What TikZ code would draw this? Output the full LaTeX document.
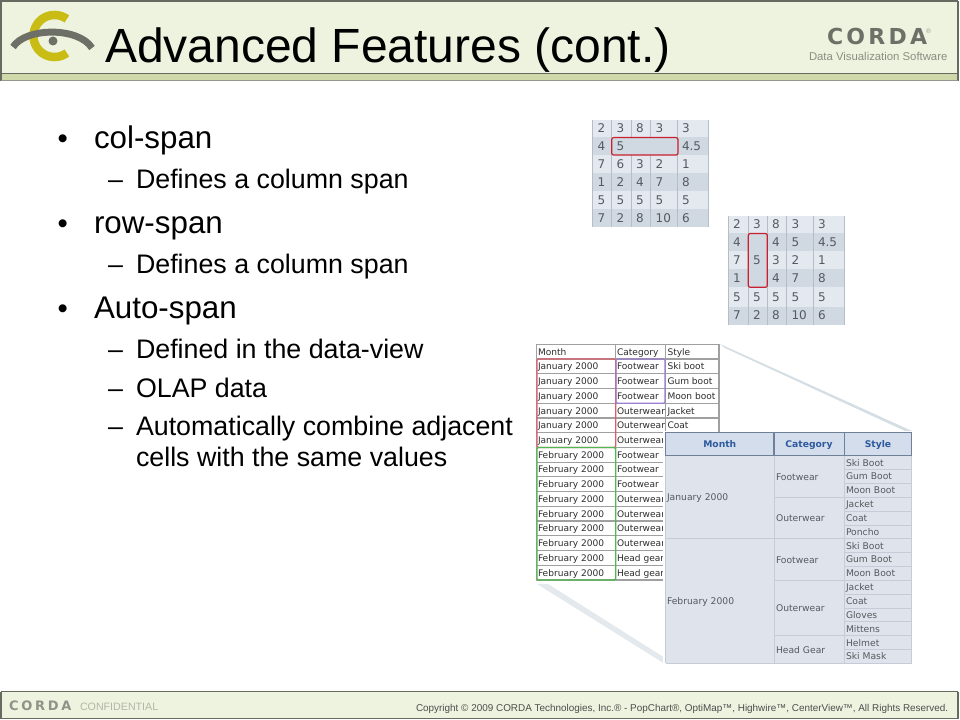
\documentclass[tikz,border=0pt]{standalone}
\usepackage{fontspec}
\setmainfont{Liberation Sans}
\newfontfamily\cordafont[LetterSpace=15]{DejaVu Sans}
\newfontfamily\cordafontb[LetterSpace=21]{DejaVu Sans}
\newfontfamily\tabfont{DejaVu Sans}
\definecolor{hbg}{HTML}{EEF3DF}
\definecolor{hband}{HTML}{CDD9A8}
\definecolor{hline}{HTML}{666A60}
\definecolor{logoy}{HTML}{C9BC14}
\definecolor{logog}{HTML}{6E7068}
\definecolor{dvsc}{HTML}{8A8E80}
\definecolor{rowa}{HTML}{E4E9F0}
\definecolor{rowb}{HTML}{D0D8E2}
\definecolor{gridc}{HTML}{B5BDC9}
\definecolor{tabtxt}{HTML}{555A60}
\definecolor{spanred}{HTML}{C8202E}
\definecolor{rawline}{HTML}{A0A0A0}
\definecolor{rawtxt}{HTML}{2E2E2E}
\definecolor{pbg}{HTML}{DFE3EC}
\definecolor{pline}{HTML}{C5CCD8}
\definecolor{phead}{HTML}{D3DDEB}
\definecolor{pborder}{HTML}{6F8099}
\definecolor{pblue}{HTML}{2E5A9E}
\definecolor{wedgec}{HTML}{D5DEE3}
\definecolor{wedged}{HTML}{E3E9EC}
\definecolor{boxred}{HTML}{D9606A}
\definecolor{boxviolet}{HTML}{9B7FD0}
\definecolor{boxgreen}{HTML}{50B850}
\tikzset{
  x=0.75pt,y=-0.75pt,
  txt/.style={anchor=base west,inner sep=0pt,outer sep=0pt},
  lvlone/.style={txt,font=\fontsize{23.5}{24}\selectfont,text=black},
  lvltwo/.style={txt,font=\fontsize{20.1}{20}\selectfont,text=black},
  bulletmark/.style={txt,font=\fontsize{22}{22}\selectfont,text=black},
  digit/.style={txt,font=\tabfont\fontsize{9}{9}\selectfont,text=tabtxt},
  rawcell/.style={txt,font=\tabfont\fontsize{6.8}{7}\selectfont,text=rawtxt},
  pcell/.style={txt,font=\tabfont\fontsize{6.9}{6.9}\selectfont,text=tabtxt},
  phdr/.style={anchor=base,inner sep=0pt,font=\tabfont\bfseries\fontsize{6.9}{6.9}\selectfont,text=pblue},
  gridl/.style={draw=gridc,line width=0.75pt},
  spanbox/.style={draw=spanred,line width=0.9pt,rounded corners=1.5pt},
  rawl/.style={draw=rawline,line width=0.85pt},
  pl/.style={draw=pline,line width=0.6pt},
}
\begin{document}
\begin{tikzpicture}
\useasboundingbox (0,0) rectangle (960,720);
\fill[white] (0,0) rectangle (960,720);
% header
\fill[hbg] (1,1) rectangle (958,73);
\fill[hband] (1,74) rectangle (958,81);
\draw[hline,line width=1.1pt] (0,1) -- (958,1) (1,1) -- (1,81) (958,1) -- (958,81);
\draw[hline,line width=0.9pt] (1,73.5) -- (958,73.5);
\draw[hline!70,line width=0.75pt] (1,81) -- (958,81);
% logo
\draw[logoy,line width=6.4pt] plot[domain=54:306,samples=50] ({54.5+21*cos(\x)},{36+21*sin(\x)});
\draw[logog,line width=5.2pt] (13,47) .. controls (26,27) and (79,27) .. (92,48);
\fill[logog] (53,41) circle (4.5);
\node[txt,font=\fontsize{36}{36}\selectfont] (title) at (105,63) {Advanced Features (cont.)};
\node[txt,font=\cordafont\bfseries\fontsize{16.5}{16.5}\selectfont,text=logog] (corda) at (827,45) {CORDA};
\node[txt,font=\fontsize{5}{5}\selectfont,text=logog!70] (reg) at (926,34) {®};
\node[txt,font=\fontsize{8.5}{8.5}\selectfont,text=dvsc] (dvs) at (809,61) {Data Visualization Software};
% footer
\fill[hbg] (1,692) rectangle (958,718);
\draw[hline,line width=1.1pt] (1,691.5) -- (958,691.5) (1,718.5) -- (958,718.5) (1,691.5) -- (1,718.5) (958,691.5) -- (958,718.5);
\node[txt,font=\cordafontb\bfseries\fontsize{9.75}{10}\selectfont,text=black!40!hbg] (cordab) at (9,710) {CORDA};
\node[txt,font=\fontsize{8}{8}\selectfont,text=black!25!hbg] (conf) at (80,710) {CONFIDENTIAL};
\node[txt,font=\fontsize{7.44}{7.44}\selectfont,text=black!70] (copy) at (416,711) {Copyright © 2009 CORDA Technologies, Inc.® - PopChart®, OptiMap™, Highwire™, CenterView™, All Rights Reserved.};
% bullets
\foreach \t/\yy [count=\i] in {col-span/148.5,row-span/233.5,Auto-span/318}{
  \node[bulletmark] (bul\i) at (57.5,\yy) {•};
  \node[lvlone] (one\i) at (94,\yy) {\t};
}
\foreach \t/\yy [count=\i] in {Defines a column span/189,Defines a column span/274,Defined in the data-view/358,OLAP data/397,Automatically combine adjacent/435}{
  \node[lvltwo] (das\i) at (108,\yy) {–};
  \node[lvltwo] (two\i) at (136,\yy) {\t};
}
\node[lvltwo] (two6) at (136,466.5) {cells with the same values};
% table 1
\foreach \ya/\yb/\cc in {120/137.3/rowa,137.3/155.3/rowb,155.3/173.3/rowa,173.3/191.3/rowb,191.3/209.3/rowa,209.3/227.3/rowb}
  \fill[\cc] (592.5,\ya) rectangle (708.7,\yb);
\foreach \xx in {592.5,611.7,631,650.7,677,708.7}
  \draw[gridl] (\xx,120) -- (\xx,227.3);
\foreach \r/\yy/\a/\b/\c/\d/\e in {1/133/2/3/8/3/3,2/151/4/5///4.5,3/169/7/6/3/2/1,4/187/1/2/4/7/8,5/205/5/5/5/5/5,6/223/7/2/8/10/6}{
  \node[digit] (ta\r) at (597.5,\yy) {\a};
  \node[digit] (tb\r) at (616.7,\yy) {\b};
  \node[digit] (tc\r) at (636,\yy) {\c};
  \node[digit] (td\r) at (655.7,\yy) {\d};
  \node[digit] (te\r) at (682,\yy) {\e};
}
\fill[rowb] (612.2,138) rectangle (677.5,154.8);
\node[digit] (tb2x) at (616.7,151) {5};
\draw[spanbox] (611.7,137.6) rectangle (678,155);
% table 2
\foreach \ya/\yb/\cc in {216/233.3/rowa,233.3/251.3/rowb,251.3/269.3/rowa,269.3/287.3/rowb,287.3/307.3/rowa,307.3/324.7/rowb}
  \fill[\cc] (728.3,\ya) rectangle (844.7,\yb);
\foreach \xx in {728.3,748.3,767.3,786.7,813.3,844.3}
  \draw[gridl] (\xx,216) -- (\xx,324.7);
\foreach \r/\yy/\a/\b/\c/\d/\e in {1/229/2/3/8/3/3,2/247/4//4/5/4.5,3/265/7//3/2/1,4/283/1//4/7/8,5/301/5/5/5/5/5,6/320/7/2/8/10/6}{
  \node[digit] (ua\r) at (733,\yy) {\a};
  \node[digit] (ub\r) at (753,\yy) {\b};
  \node[digit] (uc\r) at (772,\yy) {\c};
  \node[digit] (ud\r) at (791.5,\yy) {\d};
  \node[digit] (ue\r) at (818,\yy) {\e};
}
\fill[rowb] (748.6,233.6) rectangle (767,287);
\node[digit] (ub3x) at (753,265) {5};
\draw[spanbox] (748.3,233.5) rectangle (767.3,287.3);
% wedges
\fill[wedgec] (720,344) -- (912,431) -- (905,431) -- (725,348) -- cycle;
\fill[wedged] (537,584) -- (665,664) -- (665,658) -- (548,584) -- cycle;
% raw table
\fill[white] (536.7,344.3) rectangle (719,580);
\foreach \a/\b/\c [count=\i from 0] in {Month/Category/Style,January 2000/Footwear/Ski boot,January 2000/Footwear/Gum boot,January 2000/Footwear/Moon boot,January 2000/Outerwear/Jacket,January 2000/Outerwear/Coat,January 2000/Outerwear/,February 2000/Footwear/,February 2000/Footwear/,February 2000/Footwear/,February 2000/Outerwear/,February 2000/Outerwear/,February 2000/Outerwear/,February 2000/Outerwear/,February 2000/Head gear/,February 2000/Head gear/}{
  \pgfmathsetmacro\yt{344.3+14.73*\i}
  \pgfmathsetmacro\yc{\yt+14.73}
  \pgfmathsetmacro\yy{\yt+10.8}
  \draw[rawl] (536.7,\yt) rectangle (615.7,\yc);
  \draw[rawl] (615.7,\yt) rectangle (665.7,\yc);
  \draw[rawl] (665.7,\yt) rectangle (719,\yc);
  \node[rawcell] (rawa\i) at (538,\yy) {\a};
  \node[rawcell] (rawb\i) at (617,\yy) {\b};
  \node[rawcell] (rawc\i) at (667.5,\yy) {\c};
}
\draw[draw=boxred,line width=0.85pt,rounded corners=1pt] (537,359) rectangle (615.7,447.5);
\draw[draw=boxviolet,line width=0.85pt,rounded corners=1pt] (616,359) rectangle (665,403.2);
\draw[draw=boxgreen,line width=0.95pt,rounded corners=1pt] (537,447.5) rectangle (615.7,580);
% pretty table
\fill[white] (663,431) rectangle (665.7,665);
\fill[pbg] (665.7,432.7) rectangle (911.7,663.3);
\fill[phead] (665.7,432.7) rectangle (911.7,455.7);
\draw[pborder,line width=0.9pt] (665.7,432.7) rectangle (911.7,455.7) (774,432.7) -- (774,455.7) (844.3,432.7) -- (844.3,455.7);
\node[phdr] (hm) at (719.8,447) {Month};
\node[phdr] (hc) at (809,447) {Category};
\node[phdr] (hs) at (878,447) {Style};
\foreach \t [count=\i from 0] in {Ski Boot,Gum Boot,Moon Boot,Jacket,Coat,Poncho,Ski Boot,Gum Boot,Moon Boot,Jacket,Coat,Gloves,Mittens,Helmet,Ski Mask}{
  \pgfmathsetmacro\yt{455.7+13.84*\i}
  \pgfmathsetmacro\yc{\yt+13.84}
  \pgfmathsetmacro\yy{\yt+10.4}
  \draw[pl] (844.3,\yc) -- (911.7,\yc);
  \node[pcell] (ps\i) at (846,\yy) {\t};
}
\pgfmathsetmacro\ya{455.7+13.84*3}
\pgfmathsetmacro\yb{455.7+13.84*6}
\pgfmathsetmacro\yc{455.7+13.84*9}
\pgfmathsetmacro\yd{455.7+13.84*13}
\draw[pl] (774,\ya) -- (844.3,\ya) (665.7,\yb) -- (844.3,\yb) (774,\yc) -- (844.3,\yc) (774,\yd) -- (844.3,\yd);
\draw[pl] (774,455.7) -- (774,663.3) (844.3,455.7) -- (844.3,663.3) (665.7,455.7) -- (665.7,663.3) (911.7,455.7) -- (911.7,663.3) (665.7,663.3) -- (911.7,663.3);
\node[pcell] (pm1) at (667,500) {January 2000};
\node[pcell] (pm2) at (667,604) {February 2000};
\node[pcell] (pc1) at (776,480) {Footwear};
\node[pcell] (pc2) at (776,521.5) {Outerwear};
\node[pcell] (pc3) at (776,563) {Footwear};
\node[pcell] (pc4) at (776,611) {Outerwear};
\node[pcell] (pc5) at (776,653) {Head Gear};
\end{tikzpicture}
\end{document}
